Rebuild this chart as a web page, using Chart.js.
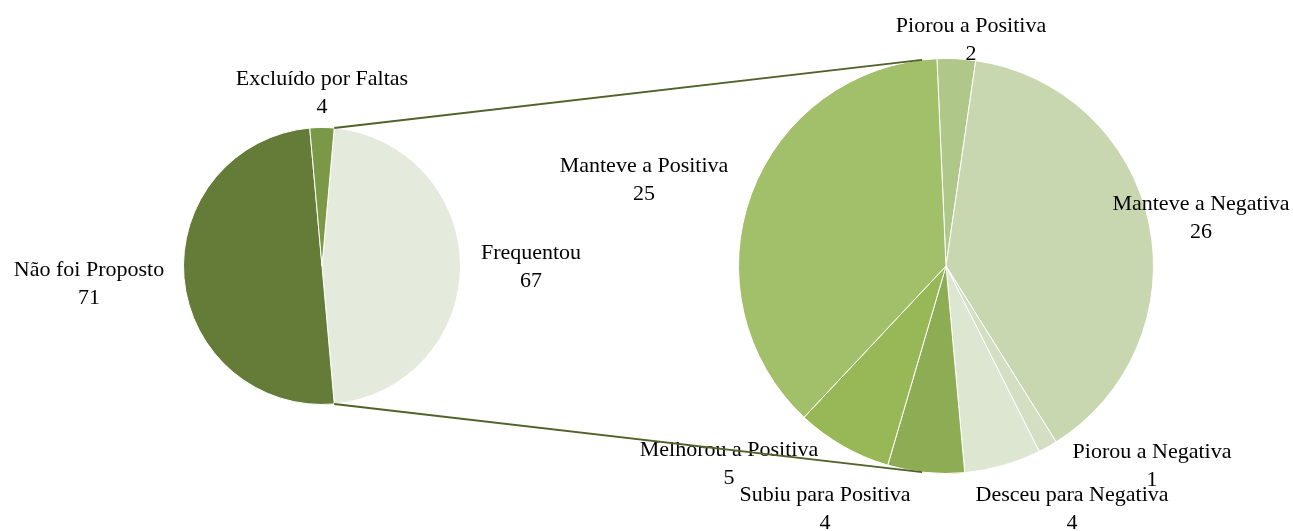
<!DOCTYPE html>
<html><head><meta charset="utf-8">
<script src="https://cdn.jsdelivr.net/npm/chart.js@4.4.0/dist/chart.umd.min.js"></script>
<style>
html,body{margin:0;padding:0;background:#fff;overflow:hidden}
#wrap{position:relative;width:1293px;height:531px}
canvas{position:absolute;left:0;top:0}
</style></head>
<body><div id="wrap"><canvas id="c1" width="1293" height="531"></canvas><canvas id="c2" width="1293" height="531"></canvas></div>
<script>
// ---- data ----
const mainLabels = ['Frequentou', 'Não foi Proposto', 'Excluído por Faltas'];
const mainValues = [67, 71, 4];
const detailLabels = ['Piorou a Positiva', 'Manteve a Negativa', 'Piorou a Negativa', 'Desceu para Negativa', 'Subiu para Positiva', 'Melhorou a Positiva', 'Manteve a Positiva'];
const detailValues = [2, 26, 1, 4, 4, 5, 25];

// ---- styles ----
const mainColors = ['#E5EBDC', '#657B38', '#7A9846'];
const detailColors = ['#AFC88A', '#C9D7B0', '#D3DEC3', '#DDE6D1', '#8EAC53', '#98B757', '#A2BF6A'];
// label offsets (px) from each pie's centre
const mainLabelOffsets = [[209, -13], [-233, 4], [0, -187]];
const detailLabelOffsets = [[25, -240], [255, -62], [206, 186], [126, 229], [-121, 229], [-217, 184], [-302, -100]];
const FONT = '22px "Liberation Serif", "Times New Roman", serif';
const LINE_GAP = 28;
const W = 1293, H = 531;

function drawLabels(chart, labels, values, offsets) {
  const ctx = chart.ctx;
  const el = chart.getDatasetMeta(0).data[0];
  const cx = el.x, cy = el.y;
  ctx.save();
  ctx.font = FONT;
  ctx.fillStyle = '#000';
  ctx.textAlign = 'center';
  ctx.textBaseline = 'middle';
  labels.forEach((lab, i) => {
    const x = cx + offsets[i][0], y = cy + offsets[i][1];
    ctx.fillText(lab, x, y);
    ctx.fillText(String(values[i]), x, y + LINE_GAP);
  });
  ctx.restore();
}

const mainTotal = mainValues.reduce((a, b) => a + b, 0);
const otherSweep = mainValues[0] / mainTotal * 360;

const leftChart = new Chart(document.getElementById('c1'), {
  type: 'pie',
  data: { labels: mainLabels, datasets: [{ data: mainValues, backgroundColor: mainColors, borderColor: '#fff', borderWidth: 1 }] },
  options: {
    responsive: false, animation: false, events: [],
    rotation: 90 - otherSweep / 2,
    layout: { padding: { left: 183, right: W - 461, top: 127, bottom: H - 405 } },
    plugins: { legend: { display: false }, tooltip: { enabled: false } }
  },
  plugins: [{ id: 'lbl1', afterDatasetsDraw(c) { drawLabels(c, mainLabels, mainValues, mainLabelOffsets); } }]
});

const CONNECT_DEG = 6.6;
new Chart(document.getElementById('c2'), {
  type: 'pie',
  data: { labels: detailLabels, datasets: [{ data: detailValues, backgroundColor: detailColors, borderColor: '#fff', borderWidth: 1 }] },
  options: {
    responsive: false, animation: false, events: [],
    rotation: -2.5,
    layout: { padding: { left: 738, right: W - 1154, top: 58, bottom: H - 474 } },
    plugins: { legend: { display: false }, tooltip: { enabled: false } }
  },
  plugins: [{
    id: 'lbl2',
    afterDatasetsDraw(c) {
      drawLabels(c, detailLabels, detailValues, detailLabelOffsets);
      // connector lines from the "other" slice of the main pie to the detail pie
      const src = leftChart.getDatasetMeta(0).data[0];
      const dst = c.getDatasetMeta(0).data[0];
      const R1 = src.outerRadius, R2 = dst.outerRadius;
      const p1 = [src.x + R1 * Math.cos(src.startAngle), src.y + R1 * Math.sin(src.startAngle)];
      const p2 = [src.x + R1 * Math.cos(src.endAngle), src.y + R1 * Math.sin(src.endAngle)];
      const a = CONNECT_DEG * Math.PI / 180;
      const q1 = [dst.x - R2 * Math.sin(a), dst.y - R2 * Math.cos(a)];
      const q2 = [dst.x - R2 * Math.sin(a), dst.y + R2 * Math.cos(a)];
      const ctx = c.ctx;
      ctx.save();
      ctx.strokeStyle = '#4F6228';
      ctx.lineWidth = 2;
      ctx.beginPath();
      ctx.moveTo(p1[0], p1[1]); ctx.lineTo(q1[0], q1[1]);
      ctx.moveTo(p2[0], p2[1]); ctx.lineTo(q2[0], q2[1]);
      ctx.stroke();
      ctx.restore();
    }
  }]
});
</script>
</body></html>
